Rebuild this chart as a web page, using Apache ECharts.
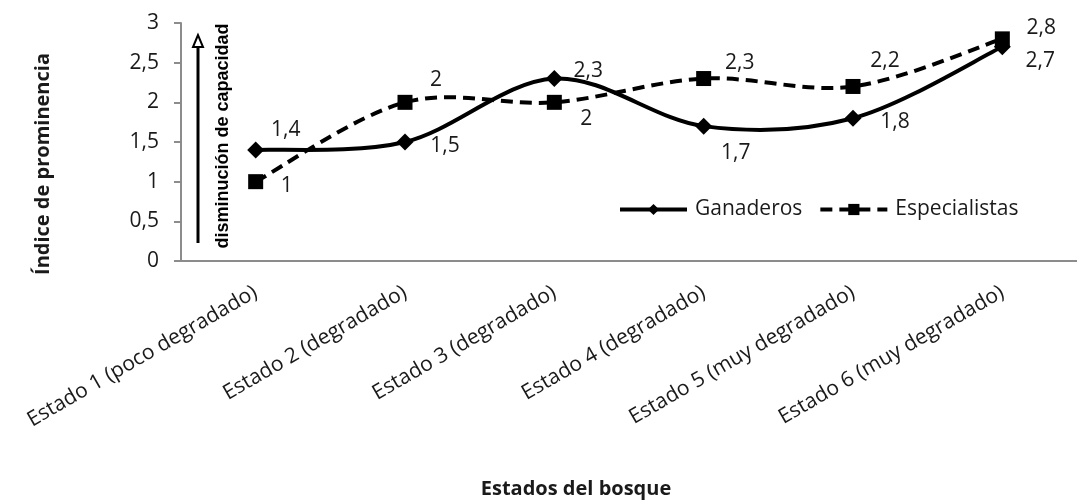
<!DOCTYPE html>
<html><head><meta charset="utf-8">
<script src="https://cdn.jsdelivr.net/npm/echarts@6/dist/echarts.min.js"></script>
<style>html,body{margin:0;padding:0;background:#fff}#c{width:1077px;height:500px}</style>
</head><body><div id="c"></div>
<script>
const categories = ["Estado 1 (poco degradado)","Estado 2 (degradado)","Estado 3 (degradado)","Estado 4 (degradado)","Estado 5 (muy degradado)","Estado 6 (muy degradado)"];
const ganaderos = [1.4, 1.5, 2.3, 1.7, 1.8, 2.7];
const especialistas = [1, 2, 2, 2.3, 2.2, 2.8];
const ganaderosLabelOffsets = [[30,-20],[40,4],[34,-8],[32,27],[42,4],[38,14]];
const especialistasLabelOffsets = [[31,4],[31,-22],[32,17],[36,-16],[32,-25],[39,-11]];

const fmt = v => String(v).replace('.', ',');
const font = '"Open Sans", sans-serif';
const txt = '#1a1a1a';

function mkData(vals, offs){
  return vals.map((v,i)=>({value:v, label:{offset:offs[i]}}));
}

// Excel-like smoothed curve (Catmull-Rom bezier) drawn through the library's coordinate system
function curveSeries(name, vals, dash){
  return {
    name: name + '-curve', type:'custom', z:1, silent:true,
    data: vals.map((v,i)=>[i,v]),
    renderItem: function(params, api){
      if (params.dataIndex !== 0) return null;
      const pts = vals.map((v,i)=>api.coord([i,v]));
      const n = pts.length;
      let d = 'M' + pts[0][0] + ' ' + pts[0][1];
      for (let i=0;i<n-1;i++){
        const p0 = pts[Math.max(i-1,0)], p1 = pts[i], p2 = pts[i+1], p3 = pts[Math.min(i+2,n-1)];
        const c1 = [p1[0] + (p2[0]-p0[0])/6, p1[1] + (p2[1]-p0[1])/6];
        const c2 = [p2[0] - (p3[0]-p1[0])/6, p2[1] - (p3[1]-p1[1])/6];
        d += ' C' + c1[0] + ' ' + c1[1] + ' ' + c2[0] + ' ' + c2[1] + ' ' + p2[0] + ' ' + p2[1];
      }
      return {type:'path', shape:{pathData:d}, style:{fill:null, stroke:'#000', lineWidth:4, lineDash:dash}};
    }
  };
}

const chart = echarts.init(document.getElementById('c'));
chart.setOption({
  animation:false,
  grid:{left:181, top:23, height:238, width:906},
  legend:{
    left:613, top:194, itemWidth:67, itemHeight:14, itemGap:16,
    textStyle:{fontFamily:font, fontSize:21, color:txt, padding:[0,0,0,3]},
    data:[
      {name:'Ganaderos', lineStyle:{opacity:1, width:4, color:'#000', type:'solid'}},
      {name:'Especialistas', lineStyle:{opacity:1, width:4, color:'#000', type:[12,7]}}
    ]
  },
  xAxis:{
    type:'category', data:categories, boundaryGap:true,
    axisLine:{lineStyle:{color:'#8c8c8c', width:2}},
    axisTick:{show:false},
    axisLabel:{rotate:30, fontFamily:font, fontSize:21, color:txt, margin:30, interval:0},
    name:'Estados del bosque', nameLocation:'middle', nameGap:218,
    nameTextStyle:{fontFamily:font, fontSize:20, fontWeight:'bold', color:txt, padding:[0,106,0,0]}
  },
  yAxis:{
    type:'value', min:0, max:3, interval:0.5,
    axisLine:{show:true, lineStyle:{color:'#8c8c8c', width:2}},
    axisTick:{show:true, length:7, lineStyle:{color:'#8c8c8c', width:2}},
    splitLine:{show:false},
    axisLabel:{formatter:fmt, fontFamily:font, fontSize:21, color:txt, margin:22},
    name:'Índice de prominencia', nameLocation:'middle', nameGap:128, nameRotate:90,
    nameTextStyle:{fontFamily:font, fontSize:20, fontWeight:'bold', color:txt, padding:[0,44,0,0]}
  },
  series:[
    curveSeries('Ganaderos', ganaderos, null),
    curveSeries('Especialistas', especialistas, [12,7]),
    {
      name:'Ganaderos', type:'line', smooth:false, z:3,
      data:mkData(ganaderos, ganaderosLabelOffsets),
      symbol:'diamond', symbolSize:17,
      lineStyle:{color:'#000', width:0, opacity:0},
      itemStyle:{color:'#000'},
      label:{show:true, position:'inside', formatter:p=>fmt(p.value), fontFamily:font, fontSize:21, color:txt}
    },
    {
      name:'Especialistas', type:'line', smooth:false, z:3,
      data:mkData(especialistas, especialistasLabelOffsets),
      symbol:'rect', symbolSize:15,
      lineStyle:{color:'#000', width:0, opacity:0},
      itemStyle:{color:'#000'},
      label:{show:true, position:'inside', formatter:p=>fmt(p.value), fontFamily:font, fontSize:21, color:txt}
    }
  ],
  graphic:[
    {type:'line', shape:{x1:198,y1:243,x2:198,y2:46}, style:{stroke:'#000', lineWidth:3}},
    {type:'polygon', shape:{points:[[198,35],[193,47],[203,47]]}, style:{fill:'#fff', stroke:'#000', lineWidth:2}},
    {type:'text', x:223, y:136, rotation:Math.PI/2,
      style:{text:'disminución de capacidad', font:'bold 18px "Liberation Sans", Arial, sans-serif', fill:'#000', align:'center', verticalAlign:'middle'}}
  ]
});
</script></body></html>
